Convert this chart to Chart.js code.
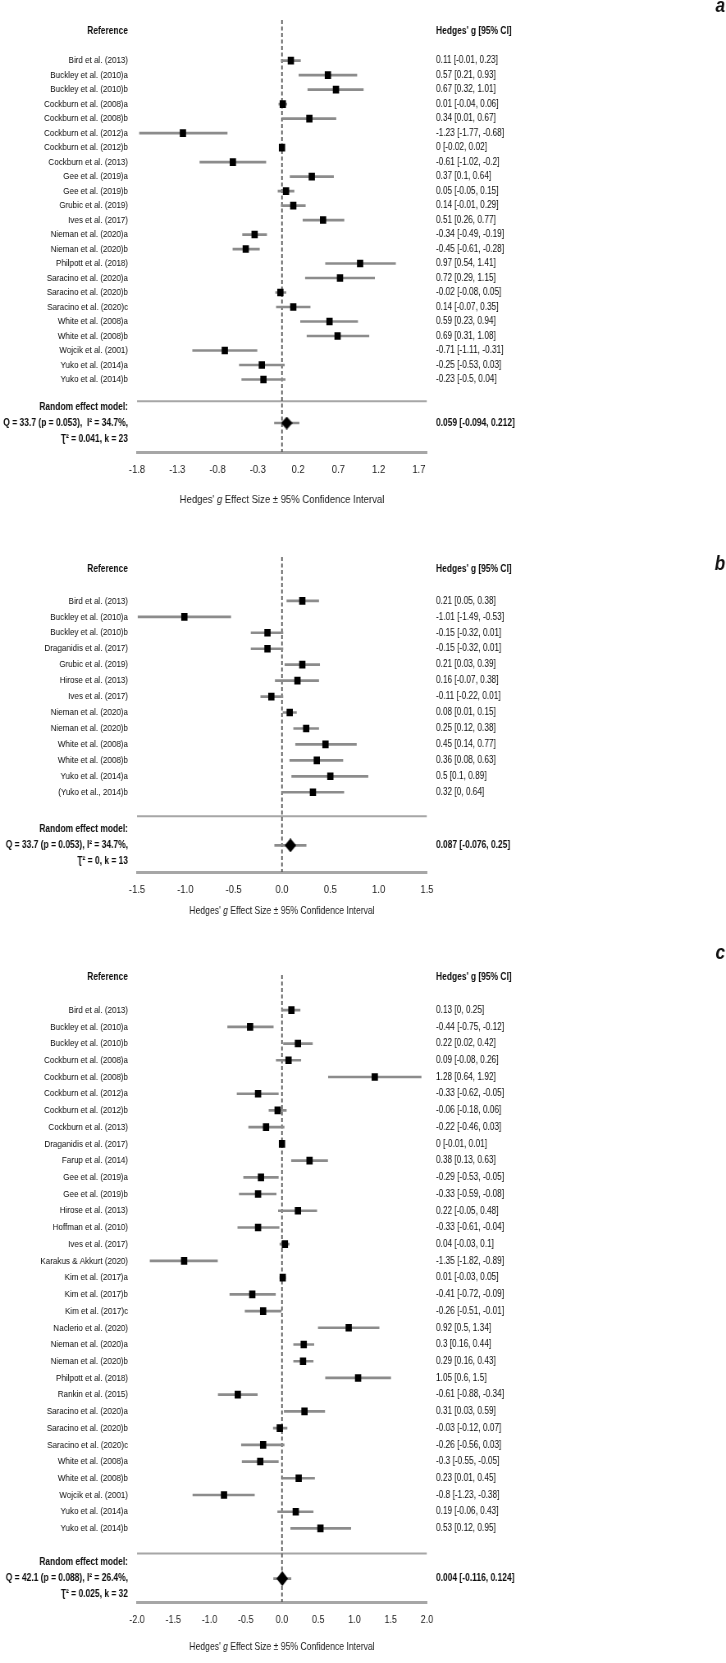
<!DOCTYPE html>
<html>
<head>
<meta charset="utf-8">
<script src="https://cdn.jsdelivr.net/npm/chart.js@4.4.1/dist/chart.umd.min.js"></script>
<style>
  html, body { margin: 0; padding: 0; background: #fff; overflow: hidden; }
  .panel { position: absolute; left: 0; width: 726px; overflow: hidden; }
  /* draw wide, then squeeze horizontally so Liberation Sans reads like a narrow face */
  .panel canvas { position: absolute; left: 0; top: 0; transform: scaleX(0.8203); transform-origin: 0 0; }
</style>
</head>
<body>
<div class="panel" style="top:0;height:515px"><canvas id="chartA" width="885" height="515"></canvas></div>
<div class="panel" style="top:515px;height:415px"><canvas id="chartB" width="885" height="415"></canvas></div>
<div class="panel" style="top:930px;height:733px"><canvas id="chartC" width="885" height="733"></canvas></div>
<script>
const FONT = '"Liberation Sans", Arial, sans-serif';
const SQ = 0.8203; // horizontal squeeze applied by css

// ---- panel a ----
const studiesA = ["Bird et al. (2013)", "Buckley et al. (2010)a", "Buckley et al. (2010)b",
  "Cockburn et al. (2008)a", "Cockburn et al. (2008)b", "Cockburn et al. (2012)a",
  "Cockburn et al. (2012)b", "Cockburn et al. (2013)", "Gee et al. (2019)a", "Gee et al. (2019)b",
  "Grubic et al. (2019)", "Ives et al. (2017)", "Nieman et al. (2020)a", "Nieman et al. (2020)b",
  "Philpott et al. (2018)", "Saracino et al. (2020)a", "Saracino et al. (2020)b",
  "Saracino et al. (2020)c", "White et al. (2008)a", "White et al. (2008)b", "Wojcik et al. (2001)",
  "Yuko et al. (2014)a", "Yuko et al. (2014)b"];
const gA  = [0.11, 0.57, 0.67, 0.01, 0.34, -1.23, 0, -0.61, 0.37, 0.05, 0.14, 0.51, -0.34, -0.45, 0.97, 0.72, -0.02, 0.14, 0.59, 0.69, -0.71, -0.25, -0.23];
const loA = [-0.01, 0.21, 0.32, -0.04, 0.01, -1.77, -0.02, -1.02, 0.1, -0.05, -0.01, 0.26, -0.49, -0.61, 0.54, 0.29, -0.08, -0.07, 0.23, 0.31, -1.11, -0.53, -0.5];
const hiA = [0.23, 0.93, 1.01, 0.06, 0.67, -0.68, 0.02, -0.2, 0.64, 0.15, 0.29, 0.77, -0.19, -0.28, 1.41, 1.15, 0.05, 0.35, 0.94, 1.08, -0.31, 0.03, 0.04];
const pooledA = [0.059, -0.094, 0.212];
const statsA = ["Random effect model:", "Q = 33.7 (p = 0.053),  I\u00b2 = 34.7%,", "\u01ae\u00b2 = 0.041, k = 23"];
const xTicksA = [-1.8, -1.3, -0.8, -0.3, 0.2, 0.7, 1.2, 1.7];

// ---- panel b ----
const studiesB = ["Bird et al. (2013)", "Buckley et al. (2010)a", "Buckley et al. (2010)b",
  "Draganidis et al. (2017)", "Grubic et al. (2019)", "Hirose et al. (2013)", "Ives et al. (2017)",
  "Nieman et al. (2020)a", "Nieman et al. (2020)b", "White et al. (2008)a", "White et al. (2008)b",
  "Yuko et al. (2014)a", "(Yuko et al., 2014)b"];
const gB  = [0.21, -1.01, -0.15, -0.15, 0.21, 0.16, -0.11, 0.08, 0.25, 0.45, 0.36, 0.5, 0.32];
const loB = [0.05, -1.49, -0.32, -0.32, 0.03, -0.07, -0.22, 0.01, 0.12, 0.14, 0.08, 0.1, 0];
const hiB = [0.38, -0.53, 0.01, 0.01, 0.39, 0.38, 0.01, 0.15, 0.38, 0.77, 0.63, 0.89, 0.64];
const pooledB = [0.087, -0.076, 0.25];
const statsB = ["Random effect model:", "Q = 33.7 (p = 0.053), I\u00b2 = 34.7%,", "\u01ae\u00b2 = 0, k = 13"];
const xTicksB = [-1.5, -1.0, -0.5, 0.0, 0.5, 1.0, 1.5];

// ---- panel c ----
const studiesC = ["Bird et al. (2013)", "Buckley et al. (2010)a", "Buckley et al. (2010)b",
  "Cockburn et al. (2008)a", "Cockburn et al. (2008)b", "Cockburn et al. (2012)a",
  "Cockburn et al. (2012)b", "Cockburn et al. (2013)", "Draganidis et al. (2017)", "Farup et al. (2014)",
  "Gee et al. (2019)a", "Gee et al. (2019)b", "Hirose et al. (2013)", "Hoffman et al. (2010)",
  "Ives et al. (2017)", "Karakus & Akkurt (2020)", "Kim et al. (2017)a", "Kim et al. (2017)b",
  "Kim et al. (2017)c", "Naclerio et al. (2020)", "Nieman et al. (2020)a", "Nieman et al. (2020)b",
  "Philpott et al. (2018)", "Rankin et al. (2015)", "Saracino et al. (2020)a", "Saracino et al. (2020)b",
  "Saracino et al. (2020)c", "White et al. (2008)a", "White et al. (2008)b", "Wojcik et al. (2001)",
  "Yuko et al. (2014)a", "Yuko et al. (2014)b"];
const gC  = [0.13, -0.44, 0.22, 0.09, 1.28, -0.33, -0.06, -0.22, 0, 0.38, -0.29, -0.33, 0.22, -0.33, 0.04, -1.35, 0.01, -0.41, -0.26, 0.92, 0.3, 0.29, 1.05, -0.61, 0.31, -0.03, -0.26, -0.3, 0.23, -0.8, 0.19, 0.53];
const loC = [0, -0.75, 0.02, -0.08, 0.64, -0.62, -0.18, -0.46, -0.01, 0.13, -0.53, -0.59, -0.05, -0.61, -0.03, -1.82, -0.03, -0.72, -0.51, 0.5, 0.16, 0.16, 0.6, -0.88, 0.03, -0.12, -0.56, -0.55, 0.01, -1.23, -0.06, 0.12];
const hiC = [0.25, -0.12, 0.42, 0.26, 1.92, -0.05, 0.06, 0.03, 0.01, 0.63, -0.05, -0.08, 0.48, -0.04, 0.1, -0.89, 0.05, -0.09, -0.01, 1.34, 0.44, 0.43, 1.5, -0.34, 0.59, 0.07, 0.03, -0.05, 0.45, -0.38, 0.43, 0.95];
const pooledC = [0.004, -0.116, 0.124];
const statsC = ["Random effect model:", "Q = 42.1 (p = 0.088), I\u00b2 = 26.4%,", "\u01ae\u00b2 = 0.025, k = 32"];
const xTicksC = [-2.0, -1.5, -1.0, -0.5, 0.0, 0.5, 1.0, 1.5, 2.0];

// diamond marker for the pooled estimate
function makeDiamond(w, h) {
  const c = document.createElement("canvas");
  c.width = w; c.height = h;
  const ctx = c.getContext("2d");
  ctx.fillStyle = "#000";
  ctx.beginPath();
  ctx.moveTo(w / 2, 0); ctx.lineTo(w, h / 2); ctx.lineTo(w / 2, h); ctx.lineTo(0, h / 2);
  ctx.closePath(); ctx.fill();
  return c;
}

const extraText = {
  id: "extraText",
  afterDraw(chart, args, opts) {
    const { ctx, chartArea } = chart;
    ctx.save();
    ctx.fillStyle = "#111";
    ctx.font = "italic bold 21px " + FONT;
    ctx.textAlign = "right";
    ctx.textBaseline = "middle";
    ctx.fillText(opts.letter, chart.width - 1, opts.letterY);

    // axis title, with the g in italics
    const parts = [["Hedges' ", ""], ["g", "italic "], [" Effect Size \u00b1 95% Confidence Interval", ""]];
    const size = opts.titleSize + "px ";
    let total = 0;
    parts.forEach(p => { ctx.font = p[1] + size + FONT; total += ctx.measureText(p[0]).width; });
    let x = (chartArea.left + chartArea.right) / 2 - total / 2;
    ctx.textAlign = "left";
    ctx.fillStyle = "#1a1a1a";
    parts.forEach(p => {
      ctx.font = p[1] + size + FONT;
      ctx.fillText(p[0], x, opts.titleY);
      x += ctx.measureText(p[0]).width;
    });
    ctx.restore();
  }
};

function forest(id, cfg) {
  const rows = cfg.studies.map((s, i) => i + 2);
  const sepRow = rows[rows.length - 1] + 1.5;
  const leftLabels = new Map([[0, "Reference"]]);
  const rightLabels = new Map([[0, "Hedges' g [95% CI]"]]);
  cfg.studies.forEach((s, i) => {
    leftLabels.set(rows[i], s);
    rightLabels.set(rows[i], `${cfg.g[i]} [${cfg.lo[i]}, ${cfg.hi[i]}]`);
  });
  leftLabels.set(cfg.reRow, cfg.stats);
  rightLabels.set(cfg.reRow, `${cfg.pooled[0]} [${cfg.pooled[1]}, ${cfg.pooled[2]}]`);
  const tickRows = [0, ...rows, cfg.reRow];
  const isBold = v => v === 0 || v === cfg.reRow;

  const ciData = rows.map((r, i) => ({ y: r, x: [cfg.lo[i], cfg.hi[i]] }));
  ciData.push({ y: cfg.reRow, x: [cfg.pooled[1], cfg.pooled[2]] });

  const yAxis = (pos, map, width, size) => ({
    type: "linear",
    position: pos,
    reverse: true,
    offset: false,
    min: cfg.yMin,
    max: cfg.yMax,
    afterBuildTicks: ax => { ax.ticks = tickRows.map(v => ({ value: v })); },
    afterFit: ax => { ax.width = width; ax.paddingTop = 0; ax.paddingBottom = 0; },
    grid: { display: false, drawTicks: false },
    border: { display: false },
    ticks: {
      autoSkip: false,
      padding: 9 / SQ,
      color: "#0d0d0d",
      callback: v => map.get(v),
      font: c => isBold(c.tick && c.tick.value)
        ? { family: FONT, size: 10.3, weight: "bold", lineHeight: 1.55 }
        : { family: FONT, size: size }
    }
  });

  return new Chart(document.getElementById(id), {
    type: "bar",
    data: {
      datasets: [
        {
          type: "scatter", data: [{ x: cfg.pooled[0], y: cfg.reRow }],
          pointStyle: makeDiamond(14, cfg.diamondH), order: 0
        },
        {
          type: "scatter", data: rows.map((r, i) => ({ x: cfg.g[i], y: r })),
          pointStyle: "rect", pointRadius: 5.4, backgroundColor: "#000", borderWidth: 0, order: 1
        },
        {
          type: "bar", data: ciData, indexAxis: "y", barThickness: 2,
          backgroundColor: "#8c8c8c", borderWidth: 0, order: 2
        },
        {
          type: "line", data: [{ x: 0, y: cfg.yMin }, { x: 0, y: cfg.yMax }],
          borderColor: "#555", borderWidth: 1.8, borderDash: [4, 2.5], pointRadius: 0, order: 3
        },
        {
          type: "line", data: [{ x: cfg.xMin, y: sepRow }, { x: cfg.xMax, y: sepRow }],
          borderColor: "#a6a6a6", borderWidth: 2, pointRadius: 0, order: 4
        }
      ]
    },
    options: {
      indexAxis: "y",
      responsive: false,
      animation: false,
      layout: { padding: { top: cfg.padTop, left: 0, right: 0, bottom: 0 } },
      plugins: {
        legend: { display: false },
        tooltip: { enabled: false },
        extraText: { letter: cfg.letter, letterY: cfg.letterY, titleY: cfg.titleY, titleSize: cfg.titleSize }
      },
      scales: {
        x: {
          type: "linear",
          min: cfg.xMin,
          max: cfg.xMax,
          offset: false,
          afterBuildTicks: ax => { ax.ticks = cfg.xTicks.map(v => ({ value: v })); },
          afterFit: ax => { ax.height = cfg.xAxisH; ax.paddingLeft = 0; ax.paddingRight = 0; },
          grid: { display: false, drawTicks: false },
          border: { display: true, color: "#a6a6a6", width: 3 },
          ticks: {
            autoSkip: false, maxRotation: 0, padding: 11, color: "#1a1a1a",
            font: { family: FONT, size: cfg.tickSize },
            callback: v => v.toFixed(1)
          }
        },
        y: yAxis("left", leftLabels, 137 / SQ, 9.8),
        y2: yAxis("right", rightLabels, 299 / SQ, 10.1)
      }
    },
    plugins: [extraText]
  });
}

forest("chartA", {
  studies: studiesA, g: gA, lo: loA, hi: hiA, pooled: pooledA, stats: statsA,
  xTicks: xTicksA, xMin: -1.8, xMax: 1.8, yMin: -0.8, yMax: 29, reRow: 27,
  padTop: 20, xAxisH: 63, letter: "a", letterY: 6, titleY: 500, titleSize: 11.6, tickSize: 11.5, diamondH: 13
});
forest("chartB", {
  studies: studiesB, g: gB, lo: loB, hi: hiB, pooled: pooledB, stats: statsB,
  xTicks: xTicksB, xMin: -1.5, xMax: 1.5, yMin: -0.75, yMax: 19, reRow: 17.33,
  padTop: 42, xAxisH: 58, letter: "b", letterY: 49, titleY: 396, titleSize: 10.5, tickSize: 11.5, diamondH: 14
});
forest("chartC", {
  studies: studiesC, g: gC, lo: loC, hi: hiC, pooled: pooledC, stats: statsC,
  xTicks: xTicksC, xMin: -2, xMax: 2, yMin: -0.1, yMax: 37.4, reRow: 36,
  padTop: 45, xAxisH: 61, letter: "c", letterY: 23, titleY: 717, titleSize: 10.5, tickSize: 11, diamondH: 15
});
</script>
</body>
</html>
